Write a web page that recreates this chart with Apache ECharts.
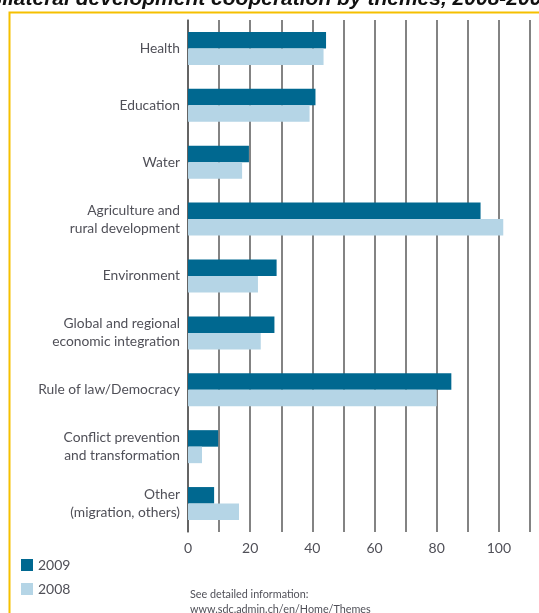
<!DOCTYPE html>
<html>
<head>
<meta charset="utf-8">
<script src="https://cdn.jsdelivr.net/npm/echarts@6/dist/echarts.min.js"></script>
<style>
  html, body { margin: 0; padding: 0; background: #fff; }
  #box { width: 539px; height: 613px; }
</style>
</head>
<body>
<div id="box"></div>
<script>
// themes, top to bottom
const themes = [
  "Health",
  "Education",
  "Water",
  "Agriculture and\nrural development",
  "Environment",
  "Global and regional\neconomic integration",
  "Rule of law/Democracy",
  "Conflict prevention\nand transformation",
  "Other\n(migration, others)"
];
const values2009 = [44.4, 41.0, 19.6, 94.1, 28.5, 27.8, 84.7, 9.7, 8.4];
const values2008 = [43.6, 39.1, 17.4, 101.4, 22.5, 23.4, 80.0, 4.5, 16.4];
const tickLabels = [0, 20, 40, 60, 80, 100];

const myChart = echarts.init(document.getElementById("box"));
const textColor = "#505058";
const lineColor = "#5a5a5a";

const option = {
  animation: false,
  textStyle: { fontFamily: "Lato" },
  grid: { left: 188, right: 9, top: 20, bottom: 81 },
  legend: {
    orient: "vertical",
    left: 16,
    top: 553,
    itemWidth: 12,
    itemHeight: 12,
    itemGap: 10,
    icon: "rect",
    textStyle: { color: textColor, fontSize: 14, fontFamily: "Lato" },
    data: ["2009", "2008"]
  },
  xAxis: {
    type: "value",
    min: 0,
    max: 110,
    interval: 10,
    axisLine: { show: false },
    axisTick: { show: false },
    axisLabel: {
      color: textColor,
      fontSize: 14,
      margin: 9,
      formatter: v => (tickLabels.indexOf(v) >= 0 ? String(v) : "")
    },
    splitLine: { show: true, lineStyle: { color: lineColor, width: 1.5 } }
  },
  yAxis: {
    type: "category",
    inverse: true,
    data: themes,
    axisLine: { show: true, lineStyle: { color: lineColor, width: 1.5 } },
    axisTick: { show: false },
    axisLabel: {
      color: textColor,
      fontSize: 13.8,
      lineHeight: 18,
      margin: 8,
      align: "right",
      padding: [3, 0, 0, 0]
    }
  },
  series: [
    {
      name: "2009",
      type: "bar",
      data: values2009,
      barWidth: 16.5,
      barGap: "0%",
      itemStyle: { color: "#006890" }
    },
    {
      name: "2008",
      type: "bar",
      data: values2008,
      barWidth: 16.5,
      barGap: "0%",
      itemStyle: { color: "#b5d5e6" }
    }
  ],
  graphic: [
    {
      type: "text",
      left: -13,
      top: -11,
      style: {
        text: "Bilateral development cooperation by themes, 2008-2009",
        font: "italic bold 21px 'Liberation Sans'",
        fill: "#111"
      }
    },
    {
      type: "polyline",
      shape: { points: [[9.5, 613], [9.5, 12.5], [539, 12.5]] },
      style: { stroke: "#f5c000", lineWidth: 2, fill: null }
    },
    {
      type: "text",
      left: 190,
      top: 587,
      style: {
        text: "See detailed information:\nwww.sdc.admin.ch/en/Home/Themes",
        font: "10.8px Lato",
        lineHeight: 15,
        fill: textColor
      }
    }
  ]
};
myChart.setOption(option);
</script>
</body>
</html>
